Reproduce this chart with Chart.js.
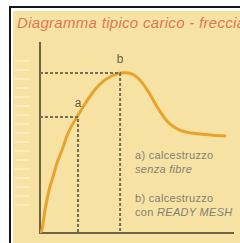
<!DOCTYPE html>
<html><head><meta charset="utf-8">
<script src="https://cdn.jsdelivr.net/npm/chart.js@4/dist/chart.umd.min.js"></script>
<style>
html,body{margin:0;padding:0;width:240px;height:243px;overflow:hidden;background:#fff;}
#blk{position:absolute;left:9px;top:6px;width:231px;height:237px;border-left:2px solid #151515;border-top:2px solid #151515;}
#bg{position:absolute;left:13px;top:11px;width:227px;height:232px;background:#f6e3a4;}
#stripes{position:absolute;left:15px;top:60px;width:14px;height:150px;
 background:repeating-linear-gradient(to bottom,rgba(255,248,225,0.45) 0 2px,transparent 2px 9px);}
#title{position:absolute;left:17px;top:14px;white-space:nowrap;font:italic 15px "Liberation Sans",sans-serif;color:#e07650;letter-spacing:0.3px;}
.leg{position:absolute;left:135px;white-space:nowrap;font:11px "Liberation Sans",sans-serif;color:#85806f;line-height:14px;letter-spacing:0.3px;}
canvas{position:absolute;left:0;top:0;}
</style></head>
<body>
<div id="blk"></div><div id="bg"></div><div id="stripes"></div>
<div id="title">Diagramma tipico carico - freccia</div>
<div class="leg" style="top:148px">a) calcestruzzo<br><i>senza fibre</i></div>
<div class="leg" style="top:191px">b) calcestruzzo<br>con <i>READY MESH</i></div>
<canvas id="c" width="240" height="243"></canvas>
<script>
const curveX = [0,1.0,2.6,4.7,6.7,8.8,11.4,14.0,16.6,19.2,23.3,27.5,31.1,35.2,38.9,42.0,45.6,48.7,51.8,54.9,57.5,60.1,62.7,65.8,69.4,73.6,78.8,85.5,91.2,96.4];
const curveY = [0,1.6,12.1,22.6,29.5,36.8,43.7,51.1,56.8,61.1,67.9,74.2,78.4,81.6,83.4,84.2,84.2,83.2,80.5,76.3,72.1,67.4,63.2,58.9,55.8,53.7,52.6,51.8,51.3,51.1];
const pointA = {label:'a', x:19.7, y:61.1};
const pointB = {label:'b', x:41.5, y:84.2};

const curve = curveX.map((x,i)=>({x, y:curveY[i]}));
const guide = p => [{x:0,y:p.y},{x:p.x,y:p.y},{x:p.x,y:0}];
const dashStyle = {borderColor:'#756e58', borderWidth:2, borderDash:[3,2], pointRadius:0, tension:0, fill:false};

const labelPlugin = {
  id:'pl',
  afterDatasetsDraw(chart){
    const {ctx, scales:{x,y}} = chart;
    ctx.save();
    ctx.fillStyle='#5f5845';
    ctx.font='12px "Liberation Sans",sans-serif';
    ctx.textAlign='center'; ctx.textBaseline='middle';
    [pointA,pointB].forEach(p=>{
      ctx.fillText(p.label, x.getPixelForValue(p.x), y.getPixelForValue(p.y)-13);
    });
    ctx.restore();
  }
};

new Chart(document.getElementById('c'), {
  type:'line',
  data:{datasets:[
    Object.assign({data:guide(pointA)}, dashStyle),
    Object.assign({data:guide(pointB)}, dashStyle),
    {data:curve, borderColor:'#e9a22c', borderWidth:3, pointRadius:0, tension:0.35, fill:false}
  ]},
  options:{
    responsive:false, animation:false,
    layout:{padding:{left:40,top:43,right:7,bottom:10}},
    plugins:{legend:{display:false}, tooltip:{enabled:false}, title:{display:false}},
    scales:{
      x:{type:'linear', min:0, max:100, ticks:{display:false},
         grid:{display:true, drawOnChartArea:false, drawTicks:false, color:'transparent'},
         border:{display:true, color:'#6b6448', width:2},
         afterFit(s){s.height=0;}},
      y:{type:'linear', min:0, max:100, ticks:{display:false},
         grid:{display:true, drawOnChartArea:false, drawTicks:false, color:'transparent'},
         border:{display:true, color:'#6b6448', width:2},
         afterFit(s){s.width=0;}}
    }
  },
  plugins:[labelPlugin]
});
</script>
</body></html>
